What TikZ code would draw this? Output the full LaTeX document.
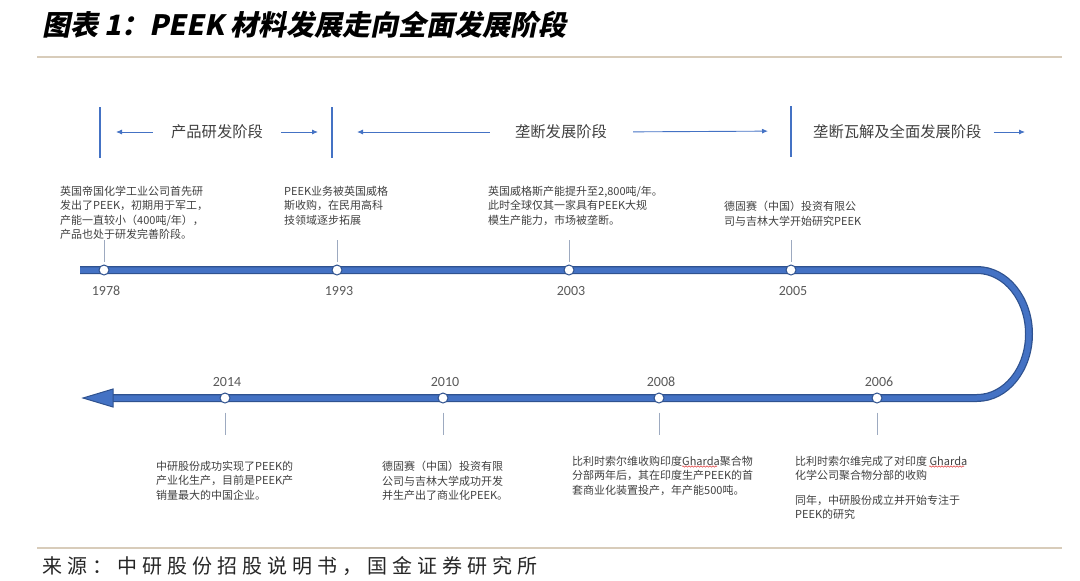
\documentclass[tikz,border=0pt]{standalone}
\usepackage{fontspec}
\usetikzlibrary{arrows.meta,calc,decorations.pathmorphing}
\newfontfamily\cjk{Noto Sans CJK SC}
\newfontfamily\titlefont[FakeSlant=0.2]{Noto Sans CJK SC}
\newfontfamily\yearfont{Carlito}
\definecolor{lineblue}{HTML}{4472C4}
\definecolor{lineedge}{HTML}{2F528F}
\definecolor{txtgray}{HTML}{404040}
\definecolor{yeargray}{HTML}{595959}
\definecolor{tickgray}{HTML}{9DAAC0}
\definecolor{rulebeige}{HTML}{D8CCBA}
\definecolor{wavered}{HTML}{E03C3C}

\begin{document}
\begin{tikzpicture}[x=1pt,y=-1pt,
  desc/.style={anchor=north west,inner sep=0pt,align=left,text=txtgray,font=\cjk\fontsize{11}{14.4}\selectfont},
  year/.style={inner sep=0pt,text=yeargray,font=\yearfont\fontsize{14}{14}\selectfont},
  phase/.style={inner sep=0pt,text=txtgray,font=\cjk\fontsize{15.3}{18}\selectfont},
  dot/.style={circle,draw=lineedge,fill=white,line width=1pt,minimum size=10pt,inner sep=0pt},
  tick/.style={draw=tickgray,line width=0.7pt},
  marker/.style={draw=lineblue,line width=2pt},
  parr/.style={draw=lineblue,line width=0.9pt,-{Latex[length=6pt,width=5pt]}},
  sep/.style={draw=rulebeige,line width=1.3pt},
  wave/.style={draw=wavered,line width=0.5pt,decorate,decoration={snake,amplitude=0.7pt,segment length=3pt}}]
  \useasboundingbox (0,0) rectangle (1080,581);
  \node[anchor=west,inner sep=0pt,font=\titlefont\bfseries\fontsize{28}{30}\selectfont] (title) at (42,25) {图表 1：PEEK 材料发展走向全面发展阶段};
  \draw[sep] (37,57) -- (1062,57);
  \draw[sep] (37,548) -- (1062,548);
  \node[anchor=west,inner sep=0pt,text=black!85,font=\cjk\fontsize{20}{22}\selectfont\addfontfeature{LetterSpace=25}] (source) at (42,566) {来源：中研股份招股说明书，国金证券研究所};

  \coordinate (m1) at (100,132);
  \coordinate (m2) at (332,132);
  \coordinate (m3) at (791,131);
  \coordinate (m4) at (1025,132);
  \foreach \m in {m1,m2,m3}
    \draw[marker] ($(\m)+(0,-25)$) -- ($(\m)+(0,26)$);
  \node[phase] (p1) at (217,132) {产品研发阶段};
  \node[phase] (p2) at (561,132) {垄断发展阶段};
  \node[phase,anchor=west] (p3) at (813,132) {垄断瓦解及全面发展阶段};
  \draw[parr,shorten <=18pt,shorten >=16pt] (p1.west) -- (m1);
  \draw[parr,shorten <=18pt,shorten >=14pt] (p1.east) -- (m2);
  \draw[parr,shorten <=25pt,shorten >=25pt] (p2.west) -- (m2);
  \draw[parr,shorten <=26pt,shorten >=23pt] (p2.east) -- (m3);
  \draw[parr,shorten <=12pt] (p3.east) -- (m4);

  \foreach \w/\c in {8/lineedge,5.5/lineblue}
    \draw[line width=\w pt,draw=\c] (80,270) -- (977,270)
      .. controls (1006,270) and (1029,299) .. (1029,334)
      .. controls (1029,369) and (1006,398) .. (977,398) -- (112,398);
  \filldraw[fill=lineblue,draw=lineedge,line width=1pt] (83,398) -- (113,389) -- (113,407) -- cycle;

  \foreach \n/\x in {1978/104,1993/337,2003/569,2005/791}{
    \node[dot] (c\n) at (\x,270) {};
    \node[year] (y\n) at (\x+2,291) {\n};
  }
  \foreach \n/\x in {2014/225,2010/443,2008/659,2006/877}{
    \node[dot] (c\n) at (\x,398) {};
    \node[year] (y\n) at (\x+2,382) {\n};
  }
  \coordinate (toptick) at (0,240);
  \coordinate (bottick) at (0,435);
  \foreach \n in {1978,1993,2003,2005}
    \draw[tick,shorten >=3pt] (c\n |- toptick) -- (c\n.north);
  \foreach \n in {2014,2010,2008,2006}
    \draw[tick,shorten <=9pt] (c\n.south) -- (c\n |- bottick);

  \node[desc] (d1978) at (60,186) {英国帝国化学工业公司首先研\\发出了PEEK，初期用于军工，\\产能一直较小（400吨/年），\\产品也处于研发完善阶段。};
  \node[desc] (d1993) at (284,186) {PEEK业务被英国威格\\斯收购，在民用高科\\技领域逐步拓展};
  \node[desc] (d2003) at (488,186) {英国威格斯产能提升至2,800吨/年。\\此时全球仅其一家具有PEEK大规\\模生产能力，市场被垄断。};
  \node[desc] (d2005) at (724,201) {德固赛（中国）投资有限公\\司与吉林大学开始研究PEEK};
  \node[desc] (d2014) at (156,461) {中研股份成功实现了PEEK的\\产业化生产，目前是PEEK产\\销量最大的中国企业。};
  \node[desc] (d2010) at (382,461) {德固赛（中国）投资有限\\公司与吉林大学成功开发\\并生产出了商业化PEEK。};
  \node[desc] (d2008) at (572,456) {比利时索尔维收购印度Gharda聚合物\\分部两年后，其在印度生产PEEK的首\\套商业化装置投产，年产能500吨。};
  \node[desc] (d2006) at (795,456) {比利时索尔维完成了对印度 Gharda\\化学公司聚合物分部的收购\\[10pt]同年，中研股份成立并开始专注于\\PEEK的研究};
  \draw[wave] ($(d2008.north west)+(110,10.5)$) -- ++(35,0);
  \draw[wave] ($(d2006.north west)+(134,10.5)$) -- ++(35,0);
\end{tikzpicture}
\end{document}
